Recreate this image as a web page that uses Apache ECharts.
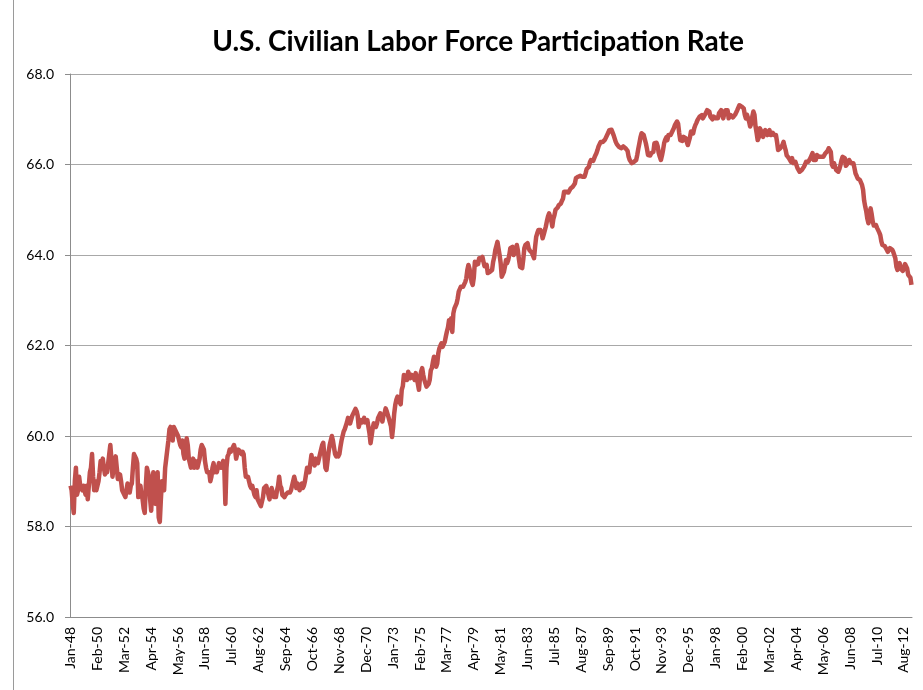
<!DOCTYPE html>
<html>
<head>
<meta charset="utf-8">
<title>U.S. Civilian Labor Force Participation Rate</title>
<script src="https://cdn.jsdelivr.net/npm/echarts@6/dist/echarts.min.js"></script>
<style>
  html, body { margin: 0; padding: 0; background: #fff; }
  #chart { width: 923px; height: 690px; }
</style>
</head>
<body>
<div id="chart"></div>
<script>
// monthly rate (%), Jan 1948 .. Mar 2013
const rate1948to1959 = [
  58.9, 58.8, 58.5, 58.3, 59.0, 59.3, 58.7, 58.8, 59.1, 58.9, 58.9, 58.8,
  58.9, 58.8, 58.7, 58.9, 58.6, 58.9, 59.2, 59.3, 59.6, 59.1, 58.8, 59.0,
  58.8, 58.9, 59.0, 59.2, 59.45, 59.4, 59.5, 59.3, 59.15, 59.3, 59.2, 59.4,
  59.6, 59.8, 59.5, 59.1, 59.3, 59.4, 59.55, 59.3, 59.05, 59.1, 59.15, 59.0,
  58.8, 58.75, 58.7, 58.65, 58.8, 58.95, 58.9, 58.75, 58.9, 58.95, 59.3, 59.6,
  59.6, 59.5, 59.4, 58.65, 58.8, 58.9, 58.7, 58.6, 58.4, 58.3, 58.9, 59.3,
  59.3, 59.1, 58.6, 58.35, 58.9, 59.2, 59.1, 58.5, 59.0, 59.2, 58.2, 58.1,
  58.6, 59.0, 58.9, 58.8, 59.3, 59.5, 59.7, 59.9, 60.15, 60.2, 60.1, 59.9,
  60.2, 60.2, 60.1, 60.05, 60.0, 60.0, 59.8, 59.75, 59.9, 59.6, 59.5, 59.55,
  59.95, 59.8, 59.5, 59.4, 59.3, 59.4, 59.5, 59.3, 59.45, 59.4, 59.3, 59.4,
  59.5, 59.7, 59.8, 59.8, 59.7, 59.45, 59.3, 59.2, 59.2, 59.2, 59.0, 59.1,
  59.3, 59.4, 59.2, 59.3, 59.2, 59.3, 59.4, 59.35, 59.3, 59.35, 59.45, 59.3
];
const rate1960s = [
  58.5, 59.3, 59.55, 59.6, 59.7, 59.65, 59.7, 59.75, 59.8, 59.7, 59.5, 59.6,
  59.7, 59.7, 59.65, 59.6, 59.65, 59.6, 59.3, 59.1, 59.1, 59.1, 59.0, 58.9,
  58.85, 58.9, 58.9, 58.7, 58.65, 58.8, 58.6, 58.6, 58.5, 58.45, 58.45, 58.65,
  58.85, 58.85, 58.9, 58.8, 58.7, 58.6, 58.75, 58.85, 58.85, 58.65, 58.65, 58.65,
  58.8, 58.9, 59.1, 58.9, 58.85, 58.7, 58.7, 58.65, 58.7, 58.7, 58.75, 58.75,
  58.75, 58.8, 58.9, 59.0, 59.1, 59.0, 58.85, 58.95, 58.9, 58.8, 58.8, 58.95,
  58.85, 58.9, 59.0, 59.15, 59.3, 59.25, 59.2, 59.4, 59.58, 59.45, 59.4, 59.35,
  59.5, 59.45, 59.4, 59.5, 59.6, 59.7, 59.8, 59.85, 59.87, 59.3, 59.25, 59.45,
  59.65, 59.8, 59.9, 60.0, 59.9, 59.75, 59.6, 59.55, 59.6, 59.55, 59.6, 59.76,
  59.9, 60.0, 60.1, 60.15, 60.17, 60.3, 60.4, 60.4, 60.28, 60.3, 60.45, 60.5
];
const rate1970s = [
  60.5, 60.6, 60.55, 60.45, 60.2, 60.3, 60.35, 60.3, 60.3, 60.4, 60.3, 60.3,
  60.35, 60.2, 60.06, 59.84, 60.0, 60.17, 60.28, 60.3, 60.2, 60.28, 60.4, 60.43,
  60.5, 60.4, 60.32, 60.45, 60.5, 60.61, 60.55, 60.54, 60.39, 60.3, 60.21, 59.98,
  60.2, 60.5, 60.69, 60.8, 60.87, 60.8, 60.8, 60.7, 61.02, 61.1, 61.35, 61.39,
  61.3, 61.24, 61.42, 61.35, 61.28, 61.35, 61.39, 61.3, 61.24, 61.39, 61.28, 61.15,
  61.02, 61.3, 61.42, 61.5, 61.35, 61.24, 61.2, 61.09, 61.09, 61.15, 61.24, 61.45,
  61.5, 61.64, 61.75, 61.7, 61.53, 61.6, 61.83, 61.94, 62.0, 62.05, 61.97, 62.0,
  62.08, 62.2, 62.31, 62.4, 62.56, 62.49, 62.6, 62.3, 62.71, 62.82, 62.78, 62.93,
  63.04, 63.19, 63.2, 63.3, 63.26, 63.3, 63.26, 63.4, 63.48, 63.67, 63.78, 63.7,
  63.67, 63.4, 63.34, 63.5, 63.85, 63.78, 63.85, 63.8, 63.93, 63.96, 63.9, 63.96
];
const rate1980s = [
  63.85, 63.75, 63.71, 63.78, 63.6, 63.6, 63.63, 63.65, 63.67, 63.85, 63.95, 64.11,
  64.2, 64.29, 64.26, 64.0, 63.82, 63.52, 63.52, 63.63, 63.75, 63.89, 63.82, 63.89,
  64.0, 64.15, 64.15, 64.18, 64.0, 64.04, 64.11, 64.22, 64.1, 63.9, 63.74, 63.7,
  63.71, 63.9, 64.15, 64.22, 64.2, 64.26, 64.15, 64.1, 64.07, 64.05, 64.04, 63.93,
  64.18, 64.4, 64.48, 64.55, 64.59, 64.55, 64.5, 64.37, 64.45, 64.48, 64.63, 64.75,
  64.85, 64.92, 64.85, 64.77, 64.63, 64.8, 64.88, 65.0, 65.0, 65.05, 65.1, 65.14,
  65.14, 65.2, 65.25, 65.4, 65.4, 65.4, 65.36, 65.38, 65.4, 65.47, 65.47, 65.51,
  65.55, 65.58, 65.7, 65.72, 65.73, 65.7, 65.75, 65.77, 65.73, 65.74, 65.73, 65.81,
  65.9, 65.92, 65.95, 66.05, 66.1, 66.06, 66.08, 66.14, 66.2, 66.25, 66.32, 66.4,
  66.45, 66.5, 66.5, 66.5, 66.54, 66.55, 66.54, 66.65, 66.7, 66.76, 66.8, 66.77
];
const rate1990s = [
  66.73, 66.65, 66.61, 66.5, 66.45, 66.43, 66.39, 66.4, 66.36, 66.39, 66.4, 66.39,
  66.36, 66.36, 66.3, 66.17, 66.1, 66.06, 66.03, 66.05, 66.06, 66.06, 66.1, 66.21,
  66.35, 66.47, 66.6, 66.69, 66.7, 66.65, 66.61, 66.47, 66.35, 66.21, 66.17, 66.2,
  66.25, 66.25, 66.28, 66.47, 66.5, 66.48, 66.4, 66.25, 66.17, 66.1, 66.2, 66.32,
  66.47, 66.55, 66.6, 66.54, 66.65, 66.69, 66.65, 66.7, 66.73, 66.8, 66.87, 66.9,
  66.95, 66.9, 66.7, 66.54, 66.5, 66.52, 66.61, 66.6, 66.58, 66.5, 66.43, 66.45,
  66.6, 66.73, 66.7, 66.69, 66.8, 66.87, 66.92, 66.98, 67.02, 67.06, 67.1, 67.09,
  67.02, 67.06, 67.1, 67.13, 67.2, 67.2, 67.17, 67.06, 67.02, 67.0, 67.06, 67.04,
  67.02, 67.02, 67.02, 67.13, 67.15, 67.2, 67.17, 67.02, 67.13, 67.2, 67.2, 67.2,
  67.02, 67.06, 67.09, 67.06, 67.04, 67.02, 67.1, 67.13, 67.2, 67.24, 67.31, 67.28
];
const rate2000s = [
  67.28, 67.26, 67.24, 67.1, 67.02, 67.1, 67.09, 66.95, 66.84, 66.9, 67.06, 67.17,
  67.1, 66.84, 66.7, 66.54, 66.6, 66.8, 66.75, 66.73, 66.61, 66.7, 66.76, 66.7,
  66.65, 66.7, 66.76, 66.65, 66.61, 66.7, 66.65, 66.61, 66.65, 66.5, 66.32, 66.32,
  66.36, 66.4, 66.43, 66.5, 66.4, 66.32, 66.2, 66.17, 66.14, 66.1, 66.06, 66.14,
  66.03, 66.0, 66.06, 66.03, 65.92, 65.95, 65.84, 65.88, 65.88, 65.84, 65.95, 66.0,
  66.06, 66.06, 66.06, 66.1, 66.14, 66.17, 66.25, 66.1, 66.06, 66.1, 66.21, 66.17,
  66.17, 66.17, 66.17, 66.17, 66.17, 66.21, 66.25, 66.28, 66.3, 66.36, 66.32, 66.28,
  66.0, 65.95, 66.03, 65.95, 65.88, 65.92, 65.84, 65.9, 65.99, 66.1, 66.17, 66.15,
  66.14, 65.97, 66.0, 66.03, 66.1, 66.1, 66.03, 66.05, 66.03, 65.92, 65.8, 65.75,
  65.69, 65.66, 65.66, 65.62, 65.55, 65.44, 65.2, 65.07, 64.96, 64.8, 64.7, 64.92
];
const rate2010to2013 = [
  65.03, 64.9, 64.74, 64.65, 64.63, 64.66, 64.6, 64.55, 64.5, 64.44, 64.3, 64.22,
  64.18, 64.2, 64.18, 64.12, 64.07, 64.07, 64.15, 64.18, 64.12, 64.07, 64.0, 63.93,
  63.74, 63.67, 63.75, 63.82, 63.7, 63.67, 63.65, 63.63, 63.8, 63.78, 63.7, 63.56,
  63.6, 63.5, 63.34
];

const startYear = 1948;
const monthNames = ['Jan', 'Feb', 'Mar', 'Apr', 'May', 'Jun', 'Jul', 'Aug', 'Sep', 'Oct', 'Nov', 'Dec'];
const yTicks = [56, 58, 60, 62, 64, 66, 68];

const rates = [].concat(rate1948to1959, rate1960s, rate1970s, rate1980s, rate1990s, rate2000s, rate2010to2013);

// category labels like "Jan-48"
const months = rates.map(function (v, i) {
  let yr = startYear + Math.floor(i / 12);
  return monthNames[i % 12] + '-' + String(yr % 100).padStart(2, '0');
});

const chart = echarts.init(document.getElementById('chart'));
chart.setOption({
  animation: false,
  backgroundColor: '#fff',
  textStyle: { fontFamily: 'Lato, sans-serif' },
  title: {
    text: 'U.S. Civilian Labor Force Participation Rate',
    left: 473,
    textAlign: 'center',
    top: 23,
    textStyle: {
      fontFamily: 'Lato, sans-serif',
      fontSize: 28,
      fontWeight: 'bold',
      color: '#000'
    }
  },
  grid: {
    left: 70,
    right: 11,
    top: 74,
    bottom: 73,
    containLabel: false
  },
  xAxis: {
    type: 'category',
    data: months,
    boundaryGap: true,
    axisLine: { lineStyle: { color: '#8c8c8c', width: 1 } },
    axisTick: {
      alignWithLabel: true,
      interval: 24,
      length: 5,
      lineStyle: { color: '#8c8c8c' }
    },
    axisLabel: {
      interval: 24,
      rotate: 90,
      margin: 10,
      fontSize: 14,
      color: '#000'
    },
    splitLine: { show: false }
  },
  yAxis: {
    type: 'value',
    min: yTicks[0],
    max: yTicks[yTicks.length - 1],
    interval: 2,
    axisLine: { show: true, lineStyle: { color: '#8c8c8c', width: 1 } },
    axisTick: { show: true, length: 5, lineStyle: { color: '#8c8c8c' } },
    axisLabel: {
      margin: 16,
      fontSize: 14,
      color: '#000',
      formatter: function (v) { return v.toFixed(1) }
    },
    splitLine: { lineStyle: { color: '#a8a8a8', width: 1 } }
  },
  graphic: [
    {
      type: 'line',
      shape: { x1: 13.5, y1: 0, x2: 13.5, y2: 690 },
      style: { stroke: '#9a9a9a', lineWidth: 1 }
    }
  ],
  series: [
    {
      name: 'Participation Rate',
      type: 'line',
      data: rates,
      showSymbol: false,
      symbol: 'none',
      lineStyle: { color: '#c0504d', width: 4.5, join: 'round' },
      itemStyle: { color: '#c0504d' }
    }
  ]
})
</script>
</body>
</html>
